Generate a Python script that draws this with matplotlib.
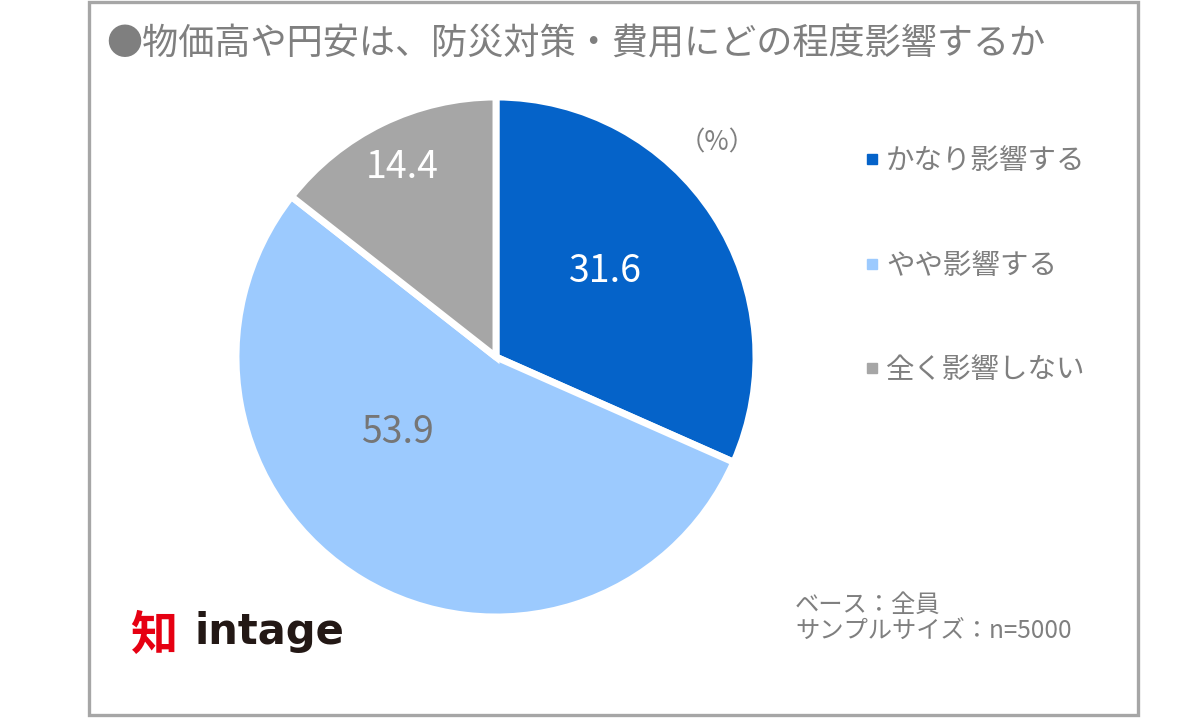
import matplotlib
matplotlib.use("Agg")
import matplotlib.pyplot as plt
from matplotlib.lines import Line2D
from matplotlib.patches import Rectangle

plt.rcParams['font.family'] = ['Noto Sans CJK JP', 'DejaVu Sans']

# データ
categories = ['かなり影響する', 'やや影響する', '全く影響しない']
values = [31.6, 53.9, 14.4]
colors = ['#0563C9', '#9CCAFE', '#A6A6A6']
label_colors = ['white', '#767676', 'white']
title = '●物価高や円安は、防災対策・費用にどの程度影響するか'
base_text = 'ベース：全員\nサンプルサイズ：n=5000'

W, H = 1200, 718
fig = plt.figure(figsize=(W / 100, H / 100), dpi=100)

# 外枠
fig.patches.append(Rectangle((89 / W, 3 / H), (1138 - 89) / W, (716 - 3) / H,
                             transform=fig.transFigure, fill=False,
                             edgecolor='#A6A6A6', linewidth=2.4))

# タイトル
fig.text(106 / W, 1 - 45 / H, title, fontsize=26, color='#7F7F7F',
         ha='left', va='center')

# 円グラフ
cx, cy, r = 496, 357, 260
ax = fig.add_axes([(cx - r) / W, 1 - (cy + r) / H, 2 * r / W, 2 * r / H])
wedges, texts = ax.pie(values, colors=colors, startangle=90, counterclock=False,
                       radius=1.0,
                       wedgeprops=dict(edgecolor='white', linewidth=5))
ax.set_xlim(-1, 1)
ax.set_ylim(-1, 1)
ax.set_aspect('equal')
ax.axis('off')

# 数値ラベル
label_pos = [(0.42, 0.33), (-0.38, -0.29), (-0.36, 0.73)]
for v, (x, y), c in zip(values, label_pos, label_colors):
    ax.text(x, y, f'{v:.1f}', ha='center', va='center', fontsize=27, color=c)

fig.text(717 / W, 1 - 143 / H, '（%）', fontsize=19, color='#7F7F7F',
         ha='center', va='center')

# 凡例
handles = [Line2D([], [], marker='s', ls='', color=c, markersize=7) for c in colors]
leg = fig.legend(handles, categories, loc='upper left',
                 bbox_to_anchor=(852 / W, 1 - 132 / H), frameon=False,
                 fontsize=20.5, labelspacing=2.62, handlelength=0.4,
                 handletextpad=0.3, borderpad=0)
for t in leg.get_texts():
    t.set_color('#7F7F7F')

# ベース
fig.text(795 / W, 1 - 618 / H, base_text, fontsize=17.5, color='#7F7F7F',
         ha='left', va='center', linespacing=1.05)

# ロゴ
fig.text(154 / W, 1 - 636 / H, '知', fontsize=34, color='#E60012',
         fontweight='bold', ha='center', va='center')
fig.text(195 / W, 1 - 632 / H, 'intage', fontsize=30, color='#231815',
         fontweight='bold', ha='left', va='center', family='DejaVu Sans')

fig.savefig('out.png', dpi=100, facecolor='white')
